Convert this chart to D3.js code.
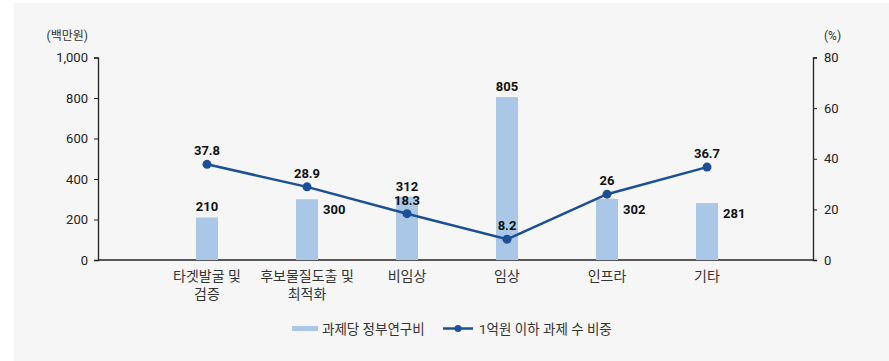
<!DOCTYPE html>
<html>
<head>
<meta charset="utf-8">
<script src="https://cdn.jsdelivr.net/npm/d3@7"></script>
<style>
  body { margin: 0; background: #fff; }
  text { font-family: Roboto, "Noto Sans CJK KR", sans-serif; }
</style>
</head>
<body>
<svg id="chart" width="889" height="361"></svg>
<script>
var categories = [["타겟발굴 및", "검증"], ["후보물질도출 및", "최적화"], ["비임상"], ["임상"], ["인프라"], ["기타"]];
var fundValues = [210, 300, 312, 805, 302, 281];       // 과제당 정부연구비 (백만원)
var shareValues = [37.8, 28.9, 18.3, 8.2, 26, 36.7];    // 1억원 이하 과제 수 비중 (%)
var leftTicks = [0, 200, 400, 600, 800, 1000];
var rightTicks = [0, 20, 40, 60, 80];
var barLabelSide = ["top", "right", "top", "top", "right", "right"];
var seriesNames = ["과제당 정부연구비", "1억원 이하 과제 수 비중"];

var barColor = "#aac7e8",
    lineColor = "#1d4f96";

var svg = d3.select("#chart");

svg.append("rect")
    .attr("x", 14).attr("y", 3)
    .attr("width", 875).attr("height", 358)
    .attr("fill", "#f6f6f6");

var plotLeft = 98, plotRight = 813, plotTop = 57.5, plotBottom = 260;

var x = d3.scaleBand()
    .domain(d3.range(categories.length))
    .range([157, 757]);

var yL = d3.scaleLinear().domain([0, 1000]).range([plotBottom, plotTop]);
var yR = d3.scaleLinear().domain([0, 80]).range([plotBottom, plotTop]);

var fmt = d3.format(",");

// left axis
var gL = svg.append("g").attr("transform", "translate(" + plotLeft + ",0)")
    .call(d3.axisLeft(yL).tickValues(leftTicks).tickFormat(fmt).tickSize(4).tickPadding(6));
// right axis
var gR = svg.append("g").attr("transform", "translate(" + plotRight + ",0)")
    .call(d3.axisRight(yR).tickValues(rightTicks).tickSize(4).tickPadding(7));

[gL, gR].forEach(function(g) {
    g.select(".domain").attr("stroke", "#222").attr("stroke-width", 1.3);
    g.selectAll(".tick line").attr("stroke", "#222");
    g.selectAll(".tick text").attr("fill", "#222").style("font-size", "13px")
        .style("font-family", "Roboto, sans-serif");
});

// bottom axis line
svg.append("line")
    .attr("x1", plotLeft).attr("x2", plotRight)
    .attr("y1", plotBottom).attr("y2", plotBottom)
    .attr("stroke", "#222").attr("stroke-width", 1.5);

// units
svg.append("text").attr("x", 88).attr("y", 40).attr("text-anchor", "end")
    .style("font-size", "12px").attr("fill", "#333").text("(백만원)");
svg.append("text").attr("x", 824).attr("y", 40)
    .style("font-size", "12px").attr("fill", "#333").text("(%)");

// bars
var bw = 22;
svg.selectAll("rect.bar")
    .data(fundValues)
    .enter().append("rect")
    .attr("class", "bar")
    .attr("x", function(d, i) { return x(i) + x.bandwidth() / 2 - bw / 2; })
    .attr("y", function(d) { return yL(d); })
    .attr("width", bw)
    .attr("height", function(d) { return plotBottom - yL(d); })
    .attr("fill", barColor);

// line
var line = d3.line()
    .x(function(d, i) { return x(i) + x.bandwidth() / 2; })
    .y(function(d) { return yR(d); });

svg.append("path")
    .datum(shareValues)
    .attr("d", line)
    .attr("fill", "none")
    .attr("stroke", lineColor)
    .attr("stroke-width", 2.5);

svg.selectAll("circle.pt")
    .data(shareValues)
    .enter().append("circle")
    .attr("class", "pt")
    .attr("cx", function(d, i) { return x(i) + x.bandwidth() / 2; })
    .attr("cy", function(d) { return yR(d); })
    .attr("r", 4.5)
    .attr("fill", lineColor);

// line labels
function lineLabelY(d) { return yR(d) - 9; }
svg.selectAll("text.linelab")
    .data(shareValues)
    .enter().append("text")
    .attr("class", "linelab")
    .attr("x", function(d, i) { return x(i) + x.bandwidth() / 2; })
    .attr("y", lineLabelY)
    .attr("text-anchor", "middle")
    .style("font-size", "13px").style("font-weight", "bold")
    .attr("fill", "#111")
    .text(function(d) { return d; });

// bar labels (pushed up if they would run into the line label)
svg.selectAll("text.barlab")
    .data(fundValues)
    .enter().append("text")
    .attr("class", "barlab")
    .attr("x", function(d, i) {
        var c = x(i) + x.bandwidth() / 2;
        return barLabelSide[i] == "top" ? c : c + bw / 2 + 5;
    })
    .attr("y", function(d, i) {
        if (barLabelSide[i] != "top") return yL(d) + 15;
        var y = yL(d) - 6, ly = lineLabelY(shareValues[i]);
        if (Math.abs(y - ly) < 15) y = ly - 14;
        return y;
    })
    .attr("text-anchor", function(d, i) { return barLabelSide[i] == "top" ? "middle" : "start"; })
    .style("font-size", "13px").style("font-weight", "bold")
    .attr("fill", "#111")
    .text(function(d) { return d; });

// category labels
var cat = svg.selectAll("text.cat")
    .data(categories)
    .enter().append("text")
    .attr("class", "cat")
    .attr("x", function(d, i) { return x(i) + x.bandwidth() / 2; })
    .attr("y", 281)
    .attr("text-anchor", "middle")
    .style("font-size", "14px")
    .attr("fill", "#333");
cat.selectAll("tspan")
    .data(function(d) { return d; })
    .enter().append("tspan")
    .attr("x", function() { return this.parentNode.getAttribute("x"); })
    .attr("dy", function(d, i) { return i == 0 ? 0 : 18; })
    .text(function(d) { return d; });

// legend
var lg = svg.append("g");
lg.append("rect").attr("x", 292).attr("y", 326).attr("width", 26).attr("height", 5).attr("fill", barColor);
lg.append("text").attr("x", 322).attr("y", 333.5).style("font-size", "13.5px").attr("fill", "#333").text(seriesNames[0]);
lg.append("line").attr("x1", 443).attr("x2", 473).attr("y1", 328.5).attr("y2", 328.5)
    .attr("stroke", lineColor).attr("stroke-width", 2.5);
lg.append("circle").attr("cx", 458).attr("cy", 328.5).attr("r", 3.5).attr("fill", lineColor);
lg.append("text").attr("x", 479).attr("y", 333.5).style("font-size", "13.5px").attr("fill", "#333").text(seriesNames[1]);
</script>
</body>
</html>
